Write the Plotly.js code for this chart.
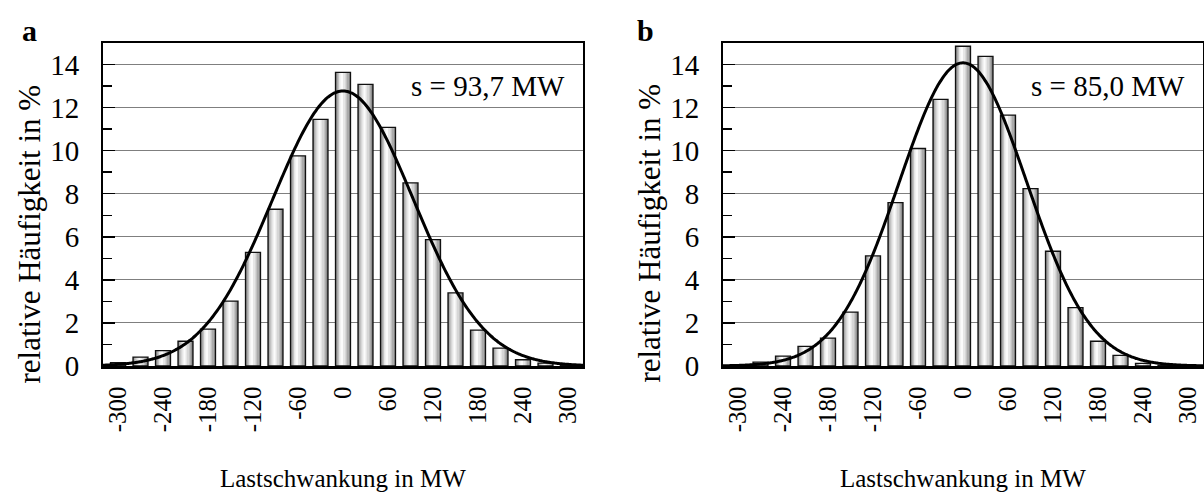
<!DOCTYPE html>
<html>
<head>
<meta charset="utf-8">
<script src="https://cdn.plot.ly/plotly-3.0.1.min.js"></script>
<style>html,body{margin:0;padding:0;background:#fff}#chart{width:1204px;height:497px}</style>
</head>
<body>
<div id="chart"></div>
<script>
// ---- data ----
const binCenters = [-300,-270,-240,-210,-180,-150,-120,-90,-60,-30,0,30,60,90,120,150,180,210,240,270,300];
const freqA = [0.15,0.41,0.71,1.15,1.71,3.01,5.28,7.28,9.76,11.45,13.64,13.08,11.08,8.50,5.87,3.40,1.67,0.83,0.29,0.13,0.02];
const freqB = [0.05,0.18,0.46,0.91,1.29,2.50,5.11,7.59,10.10,12.38,14.85,14.38,11.65,8.24,5.33,2.71,1.15,0.49,0.12,0.03,0.00];
const sigmaA = 93.7;   // s of fitted normal distribution, panel a
const sigmaB = 85.0;   // s of fitted normal distribution, panel b
const binWidth = 30;   // MW per class
const xTickVals = [-300,-240,-180,-120,-60,0,60,120,180,240,300];
const xTickText = ['-300','-240','-180','-120','-60','0','60','120','180','240','300'];
const yTickVals = [0,2,4,6,8,10,12,14];
const labelA = 's = 93,7 MW';
const labelB = 's = 85,0 MW';
const xTitle = 'Lastschwankung in MW';
const yTitle = 'relative Häufigkeit in %';

// ---- normal density curve (fitted model) ----
function normalCurve(sigma){
  const xs=[], ys=[];
  for(let x=-320;x<=320;x+=2){
    xs.push(x);
    ys.push(100*binWidth/(sigma*Math.sqrt(2*Math.PI))*Math.exp(-x*x/(2*sigma*sigma)));
  }
  return {xs, ys};
}

const FONT = 'Liberation Serif, Times New Roman, serif';
// shading layers for cylindrical bars: [left, right, colour] in MW relative to bar centre
const shade = [
  [-10,10,'#727272'],[-9,9,'#909090'],[-8.2,7.6,'#aaaaaa'],[-7.2,5.8,'#c2c2c2'],
  [-6,4,'#d6d6d6'],[-4.8,2.2,'#e6e6e6'],[-3.6,0.6,'#f2f2f2'],[-2.6,-0.6,'#fbfbfb']
];

const traces=[];
function addPanel(freq, sigma, xa, ya){
  shade.forEach(s=>{
    traces.push({type:'bar', x:binCenters, y:freq, xaxis:xa, yaxis:ya,
      width:s[1]-s[0], offset:s[0], marker:{color:s[2], line:{width:0}},
      hoverinfo:'skip', showlegend:false});
  });
  traces.push({type:'bar', x:binCenters, y:freq, xaxis:xa, yaxis:ya,
    width:20, offset:-10, marker:{color:'rgba(0,0,0,0)', line:{width:1.3,color:'#111'}},
    hoverinfo:'skip', showlegend:false});
  const c = normalCurve(sigma);
  traces.push({type:'scatter', mode:'lines', x:c.xs, y:c.ys, xaxis:xa, yaxis:ya,
    line:{color:'#000', width:3, shape:'spline'}, hoverinfo:'skip', showlegend:false});
}
addPanel(freqA, sigmaA, 'x', 'y');
addPanel(freqB, sigmaB, 'x2', 'y2');

function xAxis(domain, anchor){
  return {domain, anchor, range:[-320,320], tickmode:'array', tickvals:xTickVals, ticktext:xTickText,
    tickangle:-90, ticks:'', showgrid:false, zeroline:false, showline:true, linecolor:'#000', linewidth:2.5,
    mirror:true, tickfont:{family:FONT, size:25, color:'#000'}, ticklabelstandoff:8, fixedrange:true};
}
function yAxis(anchor){
  return {anchor, range:[0,15], tickmode:'array', tickvals:yTickVals, ticks:'inside', ticklen:12,
    tickwidth:1.5, tickcolor:'#000', showgrid:true, gridcolor:'#7f7f7f', gridwidth:1, zeroline:false,
    showline:true, linecolor:'#000', linewidth:2, mirror:true,
    minor:{dtick:1, tick0:0, ticks:'inside', ticklen:9, tickwidth:1.5, tickcolor:'#000', showgrid:false},
    tickfont:{family:FONT, size:29, color:'#000'}, ticklabelstandoff:16, fixedrange:true};
}

const ann=[];
function panelText(xref, yref, xc, label, pos, s){
  ann.push({xref:'paper', yref:'paper', x:xc, y:-0.347, text:xTitle, showarrow:false,
    xanchor:'center', yanchor:'middle', font:{family:FONT, size:25, color:'#000'}});
  ann.push({xref:'paper', yref:'paper', x:pos.yt, y:0.41, text:yTitle, textangle:-90, showarrow:false,
    xanchor:'center', yanchor:'middle', font:{family:FONT, size:31, color:'#000'}});
  ann.push({xref:'paper', yref:'paper', x:pos.lx, y:1.04, text:'<b>'+label+'</b>', showarrow:false,
    xanchor:'left', yanchor:'middle', font:{family:FONT, size:30, color:'#000'}});
  ann.push({xref:xref, yref:yref, x:298, y:13, text:s, showarrow:false,
    xanchor:'right', yanchor:'middle', font:{family:FONT, size:29, color:'#000'}});
}
panelText('x','y',0.2182,'a',{yt:-0.0664, lx:-0.0755},labelA);
panelText('x2','y2',0.7818,'b',{yt:0.4973, lx:0.4836},labelB);

const layout = {
  width:1204, height:497, autosize:false,
  margin:{l:103, r:1, t:43, b:131},
  paper_bgcolor:'#fff', plot_bgcolor:'#fff',
  barmode:'overlay', bargap:0,
  xaxis:xAxis([0,0.43636],'y'), yaxis:yAxis('x'),
  xaxis2:xAxis([0.56364,1],'y2'), yaxis2:yAxis('x2'),
  annotations:ann, showlegend:false
};
Plotly.newPlot('chart', traces, layout, {displayModeBar:false, staticPlot:true});
</script>
</body>
</html>
